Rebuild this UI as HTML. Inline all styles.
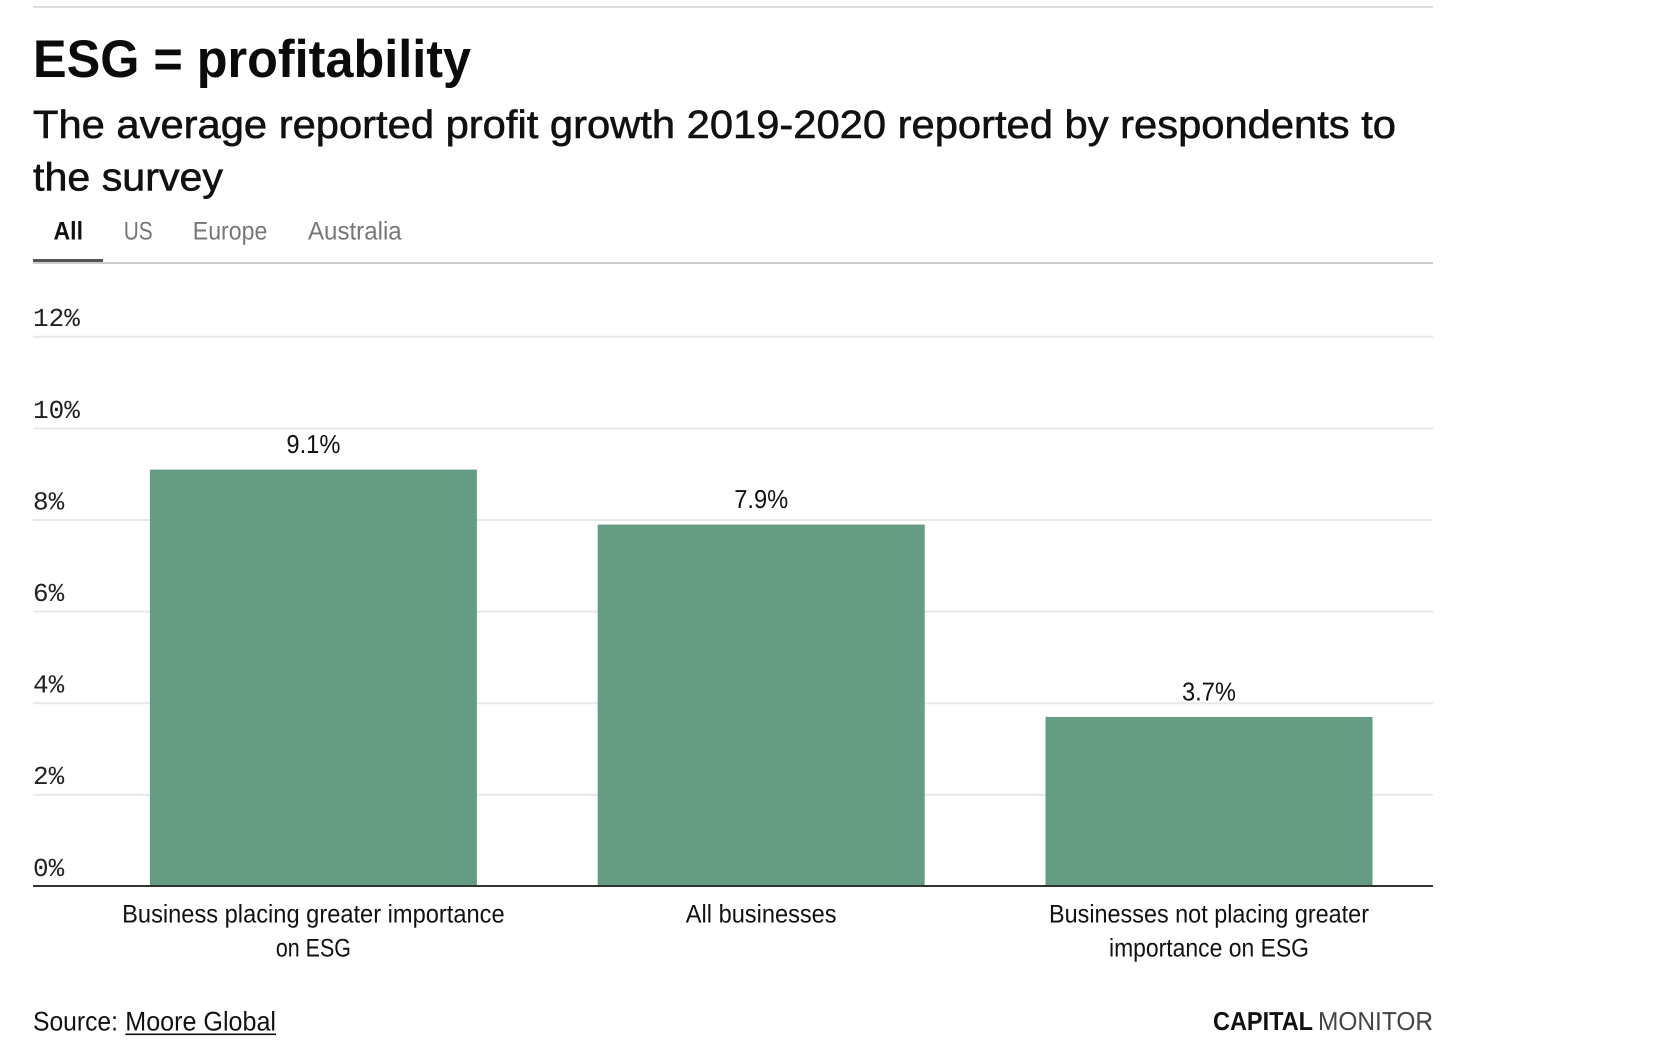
<!DOCTYPE html>
<html lang="en">
<head>
<meta charset="utf-8">
<title>ESG = profitability</title>
<style>
  html, body { margin: 0; padding: 0; background: #fff; }
  body { width: 1680px; height: 1058px; overflow: hidden; }
  svg { display: block; text-rendering: geometricPrecision; }
  text { font-family: "Liberation Sans", sans-serif; fill: #111; }
  .title { font-size: 53px; font-weight: 700; fill: #0b0b0b; }
  .subtitle { font-size: 39.5px; fill: #111; stroke: #111; stroke-width: 0.6px; }
  .tab { font-size: 25.5px; fill: #777; cursor: pointer; }
  .tab.active { font-weight: 700; fill: #111; }
  .tick-label { font-family: "Liberation Mono", monospace; font-size: 26px; fill: #222; }
  .value-label { font-size: 26px; fill: #111; paint-order: stroke; stroke: #fff; stroke-width: 4px; stroke-linejoin: round; }
  .category-label { font-size: 25.5px; fill: #111; }
  .source { font-size: 27px; fill: #111; }
  .brand { font-size: 26px; }
</style>
</head>
<body>
<svg id="chart" width="1680" height="1058" viewBox="0 0 1680 1058" xmlns="http://www.w3.org/2000/svg">
  <rect x="0" y="0" width="1680" height="1058" fill="#ffffff"/>
  <rect x="33" y="6" width="1400" height="2" fill="#dddddd"/>

  <text class="title" x="33" y="77" textLength="438" lengthAdjust="spacingAndGlyphs">ESG = profitability</text>
  <text class="subtitle" x="33" y="138" textLength="1363" lengthAdjust="spacingAndGlyphs">The average reported profit growth 2019-2020 reported by respondents to</text>
  <text class="subtitle" x="33" y="190.5" textLength="190" lengthAdjust="spacingAndGlyphs">the survey</text>

  <text class="tab active" x="53.5" y="239.3" textLength="29.5" lengthAdjust="spacingAndGlyphs">All</text>
  <text class="tab" x="123.7" y="239.3" textLength="29" lengthAdjust="spacingAndGlyphs">US</text>
  <text class="tab" x="192.8" y="239.3" textLength="74.5" lengthAdjust="spacingAndGlyphs">Europe</text>
  <text class="tab" x="308" y="239.3" textLength="93.7" lengthAdjust="spacingAndGlyphs">Australia</text>
  <rect x="33" y="262" width="1400" height="2" fill="#cccccc"/>
  <rect x="33" y="259" width="70" height="3" fill="#555555"/>

  <g id="grid"></g>
  <g id="bars"></g>
  <rect x="33" y="885" width="1400" height="2" fill="#333333"/>
  <g id="values"></g>
  <g id="cats"></g>

  <text class="source" x="33" y="1030.7" textLength="85" lengthAdjust="spacingAndGlyphs">Source:</text>
  <text class="source" x="125.3" y="1030.7" textLength="150.7" lengthAdjust="spacingAndGlyphs" style="cursor:pointer">Moore Global</text>
  <rect x="125.3" y="1033.5" width="150.7" height="1.6" fill="#111111"/>
  <text class="brand" x="1213" y="1030" textLength="100" lengthAdjust="spacingAndGlyphs" font-weight="700">CAPITAL</text>
  <text class="brand" x="1318" y="1030" textLength="115" lengthAdjust="spacingAndGlyphs" style="fill:#444">MONITOR</text>
</svg>

<script>
const categories = [
  "Business placing greater importance on ESG",
  "All businesses",
  "Businesses not placing greater importance on ESG"
];
const categoryLines = [
  ["Business placing greater importance", "on ESG"],
  ["All businesses"],
  ["Businesses not placing greater", "importance on ESG"]
];
const seriesValues = [9.1, 7.9, 3.7];
const tickValues = [0, 2, 4, 6, 8, 10, 12];
const tickLabels = ["0%", "2%", "4%", "6%", "8%", "10%", "12%"];

const NS = "http://www.w3.org/2000/svg";
const yZero = 886.4, yUnit = 45.8;
const bandStart = 89.5, bandStep = 447.8, barWidth = 327;
const barColor = "#659c84";
function yScale(v) { return yZero - v * yUnit; }
function xCenter(i) { return bandStart + bandStep * (i + 0.5); }

/* text-fit table: squeezes Liberation Sans to the reference's narrower typeface */
const fitWidths = {
  "Business placing greater importance": 382.5,
  "on ESG": 75,
  "All businesses": 150.8,
  "Businesses not placing greater": 320,
  "importance on ESG": 200
};

const gridG = document.getElementById("grid");
tickValues.forEach(function (t, i) {
  if (t !== 0) {
    const line = document.createElementNS(NS, "rect");
    line.setAttribute("x", 33);
    line.setAttribute("y", yScale(t) - 1);
    line.setAttribute("width", 1400);
    line.setAttribute("height", 2);
    line.setAttribute("fill", "#e8e8e8");
    
    
    gridG.appendChild(line);
  }
  const label = document.createElementNS(NS, "text");
  label.setAttribute("class", "tick-label");
  label.setAttribute("x", 33);
  label.setAttribute("y", yScale(t) - 10.6);
  label.textContent = tickLabels[i];
  
  
  gridG.appendChild(label);
});

const barsG = document.getElementById("bars");
const valuesG = document.getElementById("values");
seriesValues.forEach(function (v, i) {
  const bar = document.createElementNS(NS, "rect");
  bar.setAttribute("x", xCenter(i) - barWidth / 2);
  bar.setAttribute("y", yScale(v));
  bar.setAttribute("width", barWidth);
  bar.setAttribute("height", yZero - yScale(v));
  bar.setAttribute("fill", barColor);
  
  
  const barTitle = document.createElementNS(NS, "title");
  barTitle.textContent = categories[i] + ": " + v.toFixed(1) + "%";
  bar.appendChild(barTitle);
  barsG.appendChild(bar);

  const val = document.createElementNS(NS, "text");
  val.setAttribute("class", "value-label");
  val.setAttribute("x", xCenter(i));
  val.setAttribute("y", yScale(v) - 16.6);
  val.setAttribute("text-anchor", "middle");
  val.setAttribute("textLength", 54);
  val.setAttribute("lengthAdjust", "spacingAndGlyphs");
  val.textContent = v.toFixed(1) + "%";
  
  
  valuesG.appendChild(val);
});

const catsG = document.getElementById("cats");
categoryLines.forEach(function (lines, i) {
  lines.forEach(function (lineText, j) {
    const cat = document.createElementNS(NS, "text");
    cat.setAttribute("class", "category-label");
    cat.setAttribute("x", xCenter(i));
    cat.setAttribute("y", 922.7 + j * 34);
    cat.setAttribute("text-anchor", "middle");
    if (fitWidths[lineText]) {
      cat.setAttribute("textLength", fitWidths[lineText]);
      cat.setAttribute("lengthAdjust", "spacingAndGlyphs");
    }
    cat.textContent = lineText;
    
    
    catsG.appendChild(cat);
  });
});
</script>
</body>
</html>
